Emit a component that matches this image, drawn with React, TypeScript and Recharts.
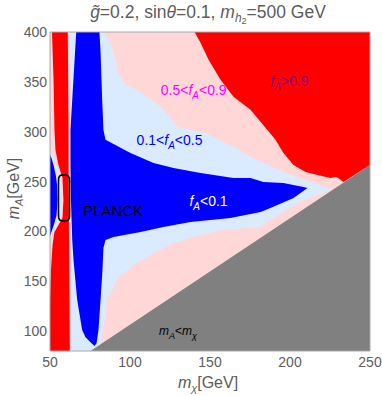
import React from 'react';
import { ComposedChart, Area, Line, XAxis, YAxis, ReferenceArea, ReferenceDot } from 'recharts';

const FONT = '"Liberation Sans", Arial, Helvetica, sans-serif';
const TXT = '#5c5c5c';
const PINK = '#FFD7D7';
const LIGHTBLUE = '#DBEBFF';
const RED = '#FF0000';
const BLUE = '#0000FF';
const GRAY = '#808080';

const xTicks = [50, 100, 150, 200, 250];
const yTicks = [100, 150, 200, 250, 300, 350, 400];

// region outlines, in (m_chi, m_A) GeV
const lightBlueRegion: [number, number][] = [
  [50, 400], [83.4, 400], [87.8, 389.2], [90.9, 372.2], [92.8, 357.1], [97.2, 347.0], [106.6, 340.0],
  [119.1, 324.9], [125.3, 313.9], [129.7, 304.8], [147.2, 298.8], [164.7, 284.7], [175.3, 274.7],
  [195.9, 259.6], [212.8, 249.6], [226.6, 242.0], [208.4, 231.5], [192.2, 216.5], [181.6, 204.4],
  [158.4, 201.3], [144.1, 196.3], [127.2, 188.3], [112.8, 176.3], [102.2, 166.2], [97.2, 159.2],
  [92.2, 153.2], [89.1, 141.1], [85.9, 133.1], [84.7, 118.0], [83.4, 104.0], [81.6, 86.9], [80.9, 80],
  [50, 80],
];

const redTopRight: [number, number][] = [
  [140.3, 400], [250, 400], [250, 266.6], [233.4, 249.6], [230.3, 253.6], [228.4, 254.6], [225.3, 253.6],
  [217.2, 256.6], [209.7, 259.6], [202.2, 266.6], [195.9, 278.7], [190.9, 291.8], [185.9, 301.8],
  [175.3, 321.9], [164.7, 335.0], [156.6, 352.1], [149.1, 372.2], [144.1, 389.2],
];

const blueLobe: [number, number][] = [
  [50, 276.7], [50.9, 273.7], [52.2, 266.6], [53.6, 256.6], [54.4, 246.5], [54.7, 231.5], [54.1, 216.5],
  [52.6, 207.4], [50.9, 199.3], [50, 195.3],
];

const pinkStrip: [number, number][] = [
  [50, 400], [62.6, 400], [63.0, 301.8], [63.0, 256.6], [63.3, 191.3], [63.6, 131.1], [63.8, 80], [50, 80],
  [50, 186.3], [51.6, 199.3], [54.1, 206.4], [56.6, 214.4], [57.2, 231.5], [56.6, 251.6], [54.1, 264.6],
  [51.6, 276.7], [50, 281.7],
];

const redStrip: [number, number][] = [
  [51.25, 400], [61.1, 400], [61.6, 301.8], [61.6, 256.6], [61.9, 191.3], [62.2, 131.1], [62.4, 80], [50, 80],
  [50, 131.1], [50.6, 161.2], [51.6, 186.3], [52.8, 199.3], [55.3, 206.4], [57.8, 213.4], [58.4, 231.5],
  [57.8, 253.6], [55.3, 266.6], [53.4, 281.7], [52.8, 301.8], [52.2, 352.1],
];

const blueMain: [number, number][] = [
  [66.4, 400], [80.9, 400], [81.6, 380.2], [82.6, 332.0], [83.4, 301.8], [84.7, 291.8], [100.3, 278.7],
  [114.7, 268.7], [127.2, 263.6], [144.1, 258.6], [164.7, 253.6], [175.3, 253.6], [183.4, 249.6],
  [195.9, 248.5], [208.4, 244.5], [210.9, 243.5], [202.2, 233.5], [187.8, 223.5], [181.6, 219.5],
  [162.8, 213.4], [137.8, 209.4], [120.9, 204.4], [106.6, 199.3], [89.7, 194.3], [84.7, 191.3],
  [83.4, 183.3], [82.8, 161.2], [81.6, 131.1], [80.3, 101.0], [79.1, 87.9], [77.8, 84.9], [75.3, 88.9],
  [72.2, 93.9], [70.1, 101.0], [67.0, 131.1], [64.7, 171.3], [63.9, 191.3], [63.1, 231.5], [62.8, 271.7],
  [62.8, 301.8], [63.9, 332.0],
];

const grayRegion: [number, number][] = [
  [75.3, 80], [250, 266.6], [250, 80],
];

const planckContour: [number, number][] = [
  [58.8, 256.6], [60.5, 256.4], [61.5, 255.5], [62.1, 253.5], [62.2, 251], [62.2, 216], [62.1, 213.5],
  [61.5, 211.5], [60.5, 210.6], [58.8, 210.4], [57, 210.6], [56, 211.5], [55.4, 213.5], [55.3, 216],
  [55.3, 251], [55.4, 253.5], [56, 255.5], [57, 256.4],
];

const regions: { key: string; pts: [number, number][]; color: string }[] = [
  { key: 'lightBlue', pts: lightBlueRegion, color: LIGHTBLUE },
  { key: 'redTR', pts: redTopRight, color: RED },
  { key: 'lobe', pts: blueLobe, color: BLUE },
  { key: 'pinkStrip', pts: pinkStrip, color: PINK },
  { key: 'redStrip', pts: redStrip, color: RED },
  { key: 'blueMain', pts: blueMain, color: BLUE },
  { key: 'gray', pts: grayRegion, color: GRAY },
];

const table: Record<string, number>[] = [];
regions.forEach(({ key, pts }) => {
  [...pts, pts[0]].forEach(([x, y]) => table.push({ x, [key]: y }));
});
[...planckContour, planckContour[0]].forEach(([x, y]) => table.push({ x, planck: y }));

type Part = { t: string; it?: boolean; sub?: number };

// renders text parts; sub = downward shift (px) for subscripts
const parts = (ps: Part[], subSize: number, subSub = 0) => {
  let cur = 0;
  return ps.map((p, i) => {
    const target = p.sub || 0;
    const dy = target - cur;
    cur = target;
    const size = p.sub ? (p.sub > 4 ? subSub : subSize) : undefined;
    return (
      <tspan key={i} dy={dy !== 0 ? dy : undefined} fontStyle={p.it ? 'italic' : undefined} fontSize={size}>
        {p.t}
      </tspan>
    );
  });
};

const inPlotLabels: { x: number; y: number; color: string; size: number; body: Part[] }[] = [
  { x: 139.8, y: 341.3, color: '#FF00FF', size: 14, body: [{ t: '0.5<' }, { t: 'f', it: true }, { t: 'A', it: true, sub: 4 }, { t: '<0.9' }] },
  { x: 199.7, y: 351.0, color: '#800080', size: 14, body: [{ t: 'f', it: true }, { t: 'A', it: true, sub: 4 }, { t: '>0.9' }] },
  { x: 124.7, y: 291.8, color: '#0000FF', size: 14, body: [{ t: '0.1<' }, { t: 'f', it: true }, { t: 'A', it: true, sub: 4 }, { t: '<0.5' }] },
  { x: 149.1, y: 230.5, color: '#FFFFFF', size: 14, body: [{ t: 'f', it: true }, { t: 'A', it: true, sub: 4 }, { t: '<0.1' }] },
  { x: 89.4, y: 220.4, color: '#000000', size: 15, body: [{ t: 'PLANCK' }] },
  {
    x: 130.0, y: 99.8, color: '#000000', size: 12,
    body: [{ t: 'm', it: true }, { t: 'A', it: true, sub: 4 }, { t: '<' }, { t: 'm', it: true }, { t: 'χ', it: true, sub: 4 }],
  },
];

const titleParts: Part[] = [
  { t: 'g\u0303', it: true }, { t: '=0.2, sin' }, { t: 'θ', it: true }, { t: '=0.1, ' }, { t: 'm', it: true },
  { t: 'h', it: true, sub: 4 }, { t: '2', sub: 6 }, { t: '=500 GeV' },
];

const renderXLabel = (props: any) => {
  const vb = props.viewBox;
  const cx = vb.x + vb.width / 2;
  return (
    <g>
      <text x={cx - 2} y={vb.y + 37} textAnchor="middle" fontFamily={FONT} fontSize={16} fill={TXT}>
        {parts([{ t: 'm', it: true }, { t: 'χ', it: true, sub: 4 }, { t: '[GeV]' }], 11)}
      </text>
      <text x={cx - 2} y={18} textAnchor="middle" fontFamily={FONT} fontSize={17.5} fill={TXT}>
        {parts(titleParts, 12, 9)}
      </text>
    </g>
  );
};

const renderYLabel = (props: any) => {
  const vb = props.viewBox;
  const cy = vb.y + vb.height / 2 - 3;
  const x = 19;
  return (
    <text x={x} y={cy} transform={`rotate(-90, ${x}, ${cy})`} textAnchor="middle" fontFamily={FONT} fontSize={16} fill={TXT}>
      {parts([{ t: 'm', it: true }, { t: 'A', it: true, sub: 4 }, { t: '[GeV]' }], 11)}
    </text>
  );
};

const makeLabel = (color: string, size: number, body: Part[]) => (props: any) => {
  const vb = props.viewBox;
  return (
    <text x={vb.x} y={vb.y + size * 0.35} textAnchor="middle" fontFamily={FONT} fontSize={size} fill={color}>
      {parts(body, Math.round(size * 0.72))}
    </text>
  );
};

export default function App() {
  return (
    <div style={{ position: 'absolute', left: 0, top: 0, width: 382, height: 396, background: '#fff' }}>
      <ComposedChart width={382} height={396} data={table} margin={{ top: 32, right: 12, bottom: 0, left: 0 }}>
        <XAxis
          dataKey="x"
          type="number"
          domain={[50, 250]}
          ticks={xTicks}
          allowDataOverflow
          tickLine={false}
          axisLine={false}
          tickSize={6}
          tickMargin={0}
          height={45}
          tick={{ fill: TXT, fontSize: 14, fontFamily: FONT }}
          label={renderXLabel}
        />
        <YAxis
          type="number"
          domain={[80, 400]}
          ticks={yTicks}
          allowDataOverflow
          tickLine={false}
          axisLine={false}
          tickSize={3}
          tickMargin={0}
          width={50}
          tick={{ fill: TXT, fontSize: 14, fontFamily: FONT }}
          label={renderYLabel}
        />
        <ReferenceArea x1={50} x2={250} y1={80} y2={400} fill={PINK} fillOpacity={1} stroke="none" />
        {regions.map((r) => (
          <Area
            key={r.key}
            dataKey={r.key}
            type="linear"
            fill={r.color}
            fillOpacity={1}
            stroke="none"
            connectNulls
            dot={false}
            activeDot={false}
            isAnimationActive={false}
          />
        ))}
        <Line
          dataKey="planck"
          type="linear"
          stroke="#000"
          strokeWidth={1.6}
          connectNulls
          dot={false}
          activeDot={false}
          isAnimationActive={false}
        />
        <ReferenceArea x1={50} x2={250} y1={80} y2={400} fill="none" stroke="#a8a8a8" strokeWidth={1} />
        {inPlotLabels.map((l, i) => (
          <ReferenceDot key={i} x={l.x} y={l.y} r={0} fill="none" stroke="none" label={makeLabel(l.color, l.size, l.body)} />
        ))}
      </ComposedChart>
    </div>
  );
}
